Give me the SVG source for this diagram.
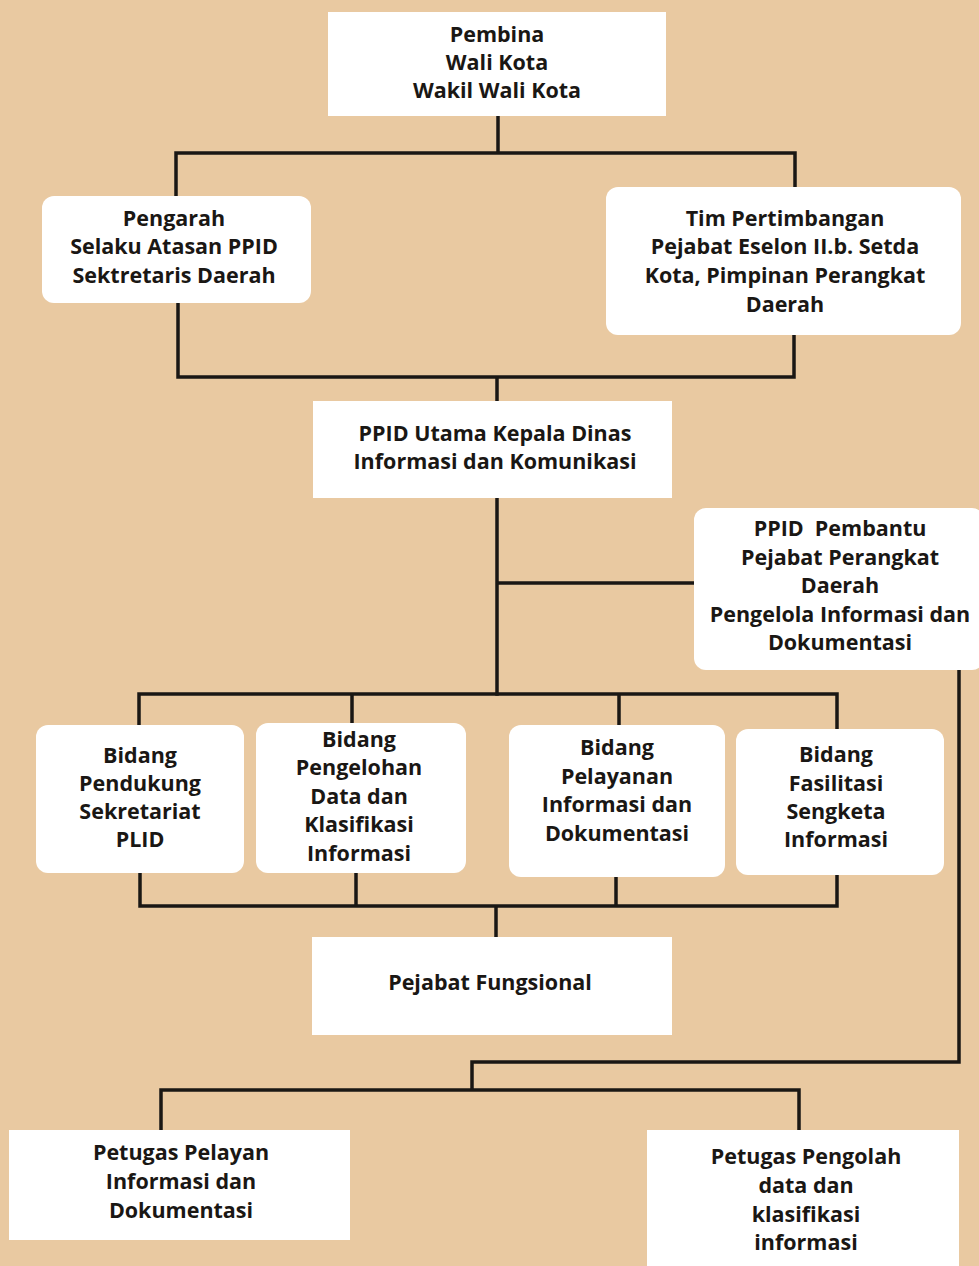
<svg xmlns="http://www.w3.org/2000/svg" width="979" height="1266" viewBox="0 0 979 1266">
<style>
.bg{fill:#E9C9A1}
.box{fill:#FFFFFF}
.ln{fill:none;stroke:#1A1714;stroke-width:3.5;stroke-linecap:square;stroke-linejoin:miter}
text{font-family:"Open Sans",Lato,"Liberation Sans",sans-serif;font-weight:700;font-size:21.5px;fill:#1A1714;text-anchor:middle}
</style>
<rect class="bg" x="0" y="0" width="979" height="1266"/>
<g id="connectors">
<path class="ln" d="M498 116 V153 M176 153 H795 M176 153 V197 M795 153 V187"/>
<path class="ln" d="M178 303 V377 M794 335 V377 M178 377 H794 M497 377 V401"/>
<path class="ln" d="M497 498 V694 M497 583 H694"/>
<path class="ln" d="M139 694 H837 M139 694 V725 M352 694 V723 M619 694 V725 M837 694 V729"/>
<path class="ln" d="M140 873 V906 M356 873 V906 M616 877 V906 M837 875 V906 M140 906 H837 M496 906 V937"/>
<path class="ln" d="M959 670 V1062 H472 V1090 M161 1090 H799 M161 1090 V1130 M799 1090 V1130"/>
</g>
<g id="n-pembina">
<rect class="box" x="328" y="12" width="338" height="104"/>
<text x="497" y="42">Pembina</text>
<text x="497" y="70">Wali Kota</text>
<text x="497" y="98">Wakil Wali Kota</text>
</g>
<g id="n-pengarah">
<rect class="box" x="42" y="196" width="269" height="107" rx="12"/>
<text x="174" y="226">Pengarah</text>
<text x="174" y="254">Selaku Atasan PPID</text>
<text x="174" y="283">Sektretaris Daerah</text>
</g>
<g id="n-tim">
<rect class="box" x="606" y="187" width="355" height="148" rx="12"/>
<text x="785" y="226">Tim Pertimbangan</text>
<text x="785" y="254">Pejabat Eselon II.b. Setda</text>
<text x="785" y="283">Kota, Pimpinan Perangkat</text>
<text x="785" y="312">Daerah</text>
</g>
<g id="n-ppid-utama">
<rect class="box" x="313" y="401" width="359" height="97"/>
<text x="495" y="441">PPID Utama Kepala Dinas</text>
<text x="495" y="469">Informasi dan Komunikasi</text>
</g>
<g id="n-ppid-pembantu">
<rect class="box" x="694" y="508" width="290" height="162" rx="12"/>
<text x="840" y="536" xml:space="preserve">PPID  Pembantu</text>
<text x="840" y="565">Pejabat Perangkat</text>
<text x="840" y="593">Daerah</text>
<text x="840" y="622">Pengelola Informasi dan</text>
<text x="840" y="650">Dokumentasi</text>
</g>
<g id="n-bidang-1">
<rect class="box" x="36" y="725" width="208" height="148" rx="12"/>
<text x="140" y="763">Bidang</text>
<text x="140" y="791">Pendukung</text>
<text x="140" y="819">Sekretariat</text>
<text x="140" y="847">PLID</text>
</g>
<g id="n-bidang-2">
<rect class="box" x="256" y="723" width="210" height="150" rx="12"/>
<text x="359" y="747">Bidang</text>
<text x="359" y="775">Pengelohan</text>
<text x="359" y="804">Data dan</text>
<text x="359" y="832">Klasifikasi</text>
<text x="359" y="861">Informasi</text>
</g>
<g id="n-bidang-3">
<rect class="box" x="509" y="725" width="216" height="152" rx="12"/>
<text x="617" y="755">Bidang</text>
<text x="617" y="784">Pelayanan</text>
<text x="617" y="812">Informasi dan</text>
<text x="617" y="841">Dokumentasi</text>
</g>
<g id="n-bidang-4">
<rect class="box" x="736" y="729" width="208" height="146" rx="12"/>
<text x="836" y="762">Bidang</text>
<text x="836" y="791">Fasilitasi</text>
<text x="836" y="819">Sengketa</text>
<text x="836" y="847">Informasi</text>
</g>
<g id="n-fungsional">
<rect class="box" x="312" y="937" width="360" height="98"/>
<text x="490" y="990">Pejabat Fungsional</text>
</g>
<g id="n-petugas-pelayan">
<rect class="box" x="9" y="1130" width="341" height="110"/>
<text x="181" y="1160">Petugas Pelayan</text>
<text x="181" y="1189">Informasi dan</text>
<text x="181" y="1218">Dokumentasi</text>
</g>
<g id="n-petugas-pengolah">
<rect class="box" x="647" y="1130" width="312" height="140"/>
<text x="806" y="1164">Petugas Pengolah</text>
<text x="806" y="1193">data dan</text>
<text x="806" y="1222">klasifikasi</text>
<text x="806" y="1250">informasi</text>
</g>
</svg>
